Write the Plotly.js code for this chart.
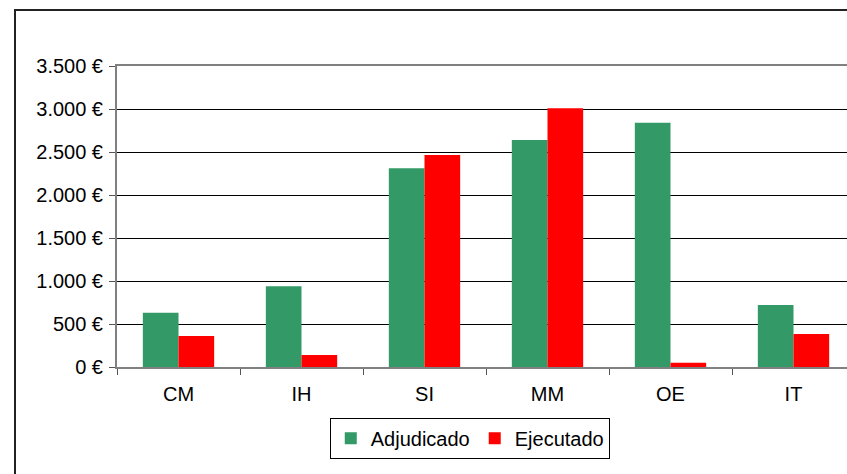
<!DOCTYPE html>
<html>
<head>
<meta charset="utf-8">
<script src="https://cdn.plot.ly/plotly-3.0.1.min.js"></script>
<style>
html,body{margin:0;padding:0;overflow:hidden;background:#fff;width:847px;height:474px;}
#chart{position:absolute;left:0;top:0;}
#frame{position:absolute;left:14px;top:9px;width:900px;height:520px;border:2px solid #222;pointer-events:none;}
</style>
</head>
<body>
<div id="chart"></div>
<div id="frame"></div>
<script>
const categories = ["CM","IH","SI","MM","OE","IT"];
const adjudicado = [630, 940, 2310, 2640, 2840, 720];
const ejecutado = [360, 140, 2465, 3010, 50, 385];
const yTickVals = [0,500,1000,1500,2000,2500,3000,3500];
const yTickText = ["0 €","500 €","1.000 €","1.500 €","2.000 €","2.500 €","3.000 €","3.500 €"];

const font = {family: "Liberation Sans, Arial, sans-serif", size: 20, color: "#000"};

const traces = [
  {type:"bar", name:"Adjudicado", x:categories, y:adjudicado, marker:{color:"#339966"}},
  {type:"bar", name:"Ejecutado", x:categories, y:ejecutado, marker:{color:"#FF0000"}}
];

const layout = {
  width: 880, height: 500,
  margin: {l:117, r:25, t:66, b:133},
  paper_bgcolor: "#fff", plot_bgcolor: "#fff",
  font: font,
  barmode: "group", bargap: 0.42, bargroupgap: 0,
  showlegend: true,
  legend: {orientation:"h", x:0.478, xanchor:"center", y:-0.169, yanchor:"top",
           bordercolor:"#000", borderwidth:1, bgcolor:"#fff", font:font,
           itemwidth:30, traceorder:"normal"},
  xaxis: {type:"category", showline:true, linecolor:"#808080", linewidth:2, mirror:true,
          ticks:"outside", tickson:"boundaries", ticklen:6, tickcolor:"#555", tickwidth:1,
          showgrid:false, tickfont:font, ticklabelstandoff:8},
  yaxis: {range:[0,3500], tickvals:yTickVals, ticktext:yTickText, showline:true,
          linecolor:"#808080", linewidth:2, mirror:true, ticks:"outside", ticklen:6,
          tickcolor:"#555", tickwidth:1, showgrid:true, gridcolor:"#000", gridwidth:1,
          zeroline:false, tickfont:font, ticklabelstandoff:2}
};

Plotly.newPlot("chart", traces, layout, {displayModeBar:false, staticPlot:true});
</script>
</body>
</html>
